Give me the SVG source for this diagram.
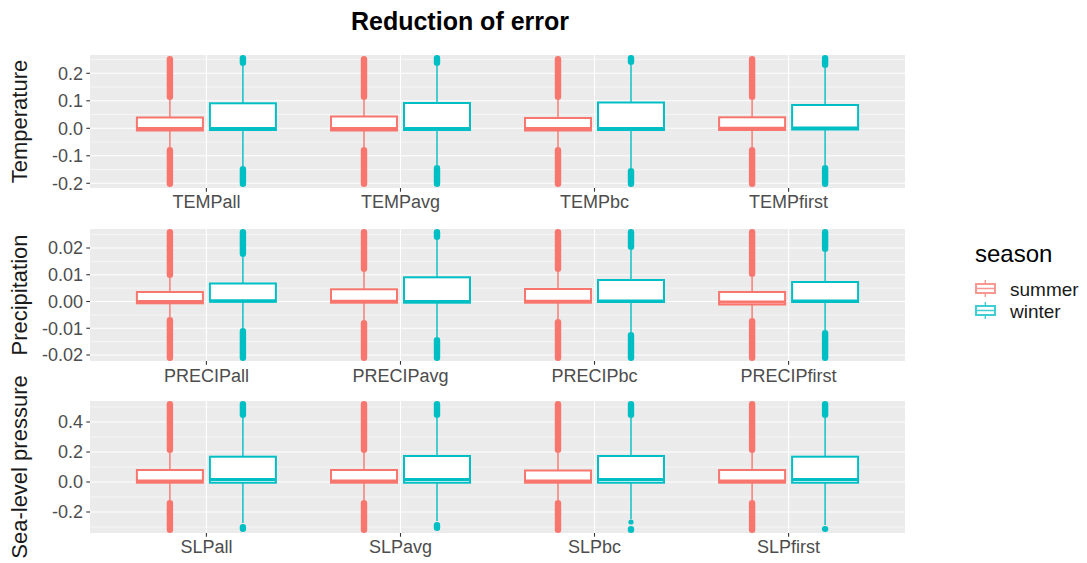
<svg xmlns="http://www.w3.org/2000/svg" width="1087" height="563" viewBox="0 0 1087 563">
<style>
  text { font-family: "Liberation Sans", Arial, sans-serif; }
  .title { font-size: 25px; font-weight: bold; fill: #000; }
  .strip { font-size: 22px; fill: #1a1a1a; }
  .ytick { font-size: 18px; fill: #4d4d4d; text-anchor: end; }
  .xtick { font-size: 18px; fill: #4d4d4d; text-anchor: middle; }
  .bg { fill: #ebebeb; }
  .gmaj { stroke: #fff; stroke-width: 1.1; }
  .gmin { stroke: #fff; stroke-width: 0.55; }
  .tk { stroke: #333; stroke-width: 1.1; }
  .s { stroke: #f8766d; fill: #f8766d; }
  .w { stroke: #00bfc4; fill: #00bfc4; }
  .wh { stroke-width: 1.4; }
  .box { fill: #fff; stroke-width: 2; }
  .med { stroke-width: 3.2; }
  .o { stroke: none; }
  .leg-title { font-size: 24px; fill: #000; }
  .leg-lab { font-size: 19px; fill: #1a1a1a; }
</style>

<text class="title" x="460" y="30" text-anchor="middle">Reduction of error</text>

<!-- panel backgrounds and grids -->
<g id="panel-temperature">
  <rect class="bg" x="90" y="55" width="815" height="133"/>
  <g class="gmin">
    <line x1="90" x2="905" y1="59.5" y2="59.5"/><line x1="90" x2="905" y1="87" y2="87"/>
    <line x1="90" x2="905" y1="114.5" y2="114.5"/><line x1="90" x2="905" y1="142" y2="142"/>
    <line x1="90" x2="905" y1="169.5" y2="169.5"/>
  </g>
  <g class="gmaj">
    <line x1="90" x2="905" y1="73.3" y2="73.3"/><line x1="90" x2="905" y1="100.8" y2="100.8"/>
    <line x1="90" x2="905" y1="128.3" y2="128.3"/><line x1="90" x2="905" y1="155.8" y2="155.8"/>
    <line x1="90" x2="905" y1="183.3" y2="183.3"/>
    <line x1="206.4" x2="206.4" y1="55" y2="188"/><line x1="400.5" x2="400.5" y1="55" y2="188"/>
    <line x1="594.5" x2="594.5" y1="55" y2="188"/><line x1="788.6" x2="788.6" y1="55" y2="188"/>
  </g>
  <g class="tk">
    <line x1="86.3" x2="90" y1="73.3" y2="73.3"/><line x1="86.3" x2="90" y1="100.8" y2="100.8"/>
    <line x1="86.3" x2="90" y1="128.3" y2="128.3"/><line x1="86.3" x2="90" y1="155.8" y2="155.8"/>
    <line x1="86.3" x2="90" y1="183.3" y2="183.3"/>
    <line x1="206.4" x2="206.4" y1="188" y2="191.7"/><line x1="400.5" x2="400.5" y1="188" y2="191.7"/>
    <line x1="594.5" x2="594.5" y1="188" y2="191.7"/><line x1="788.6" x2="788.6" y1="188" y2="191.7"/>
  </g>
  <text class="ytick" x="83" y="79.6">0.2</text>
  <text class="ytick" x="83" y="107.1">0.1</text>
  <text class="ytick" x="83" y="134.6">0.0</text>
  <text class="ytick" x="83" y="162.1">-0.1</text>
  <text class="ytick" x="83" y="189.6">-0.2</text>
  <text class="xtick" x="206.4" y="208">TEMPall</text>
  <text class="xtick" x="400.5" y="208">TEMPavg</text>
  <text class="xtick" x="594.5" y="208">TEMPbc</text>
  <text class="xtick" x="788.6" y="208">TEMPfirst</text>
  <text class="strip" transform="translate(27,121.5) rotate(-90)" text-anchor="middle">Temperature</text>
</g>

<g id="panel-precipitation">
  <rect class="bg" x="90" y="229" width="815" height="132"/>
  <g class="gmin">
    <line x1="90" x2="905" y1="234.6" y2="234.6"/><line x1="90" x2="905" y1="261.4" y2="261.4"/>
    <line x1="90" x2="905" y1="288.1" y2="288.1"/><line x1="90" x2="905" y1="314.9" y2="314.9"/>
    <line x1="90" x2="905" y1="341.6" y2="341.6"/>
  </g>
  <g class="gmaj">
    <line x1="90" x2="905" y1="248" y2="248"/><line x1="90" x2="905" y1="274.75" y2="274.75"/>
    <line x1="90" x2="905" y1="301.5" y2="301.5"/><line x1="90" x2="905" y1="328.25" y2="328.25"/>
    <line x1="90" x2="905" y1="355" y2="355"/>
    <line x1="206.4" x2="206.4" y1="229" y2="361"/><line x1="400.5" x2="400.5" y1="229" y2="361"/>
    <line x1="594.5" x2="594.5" y1="229" y2="361"/><line x1="788.6" x2="788.6" y1="229" y2="361"/>
  </g>
  <g class="tk">
    <line x1="86.3" x2="90" y1="248" y2="248"/><line x1="86.3" x2="90" y1="274.75" y2="274.75"/>
    <line x1="86.3" x2="90" y1="301.5" y2="301.5"/><line x1="86.3" x2="90" y1="328.25" y2="328.25"/>
    <line x1="86.3" x2="90" y1="355" y2="355"/>
    <line x1="206.4" x2="206.4" y1="361" y2="364.7"/><line x1="400.5" x2="400.5" y1="361" y2="364.7"/>
    <line x1="594.5" x2="594.5" y1="361" y2="364.7"/><line x1="788.6" x2="788.6" y1="361" y2="364.7"/>
  </g>
  <text class="ytick" x="83" y="254.3">0.02</text>
  <text class="ytick" x="83" y="281">0.01</text>
  <text class="ytick" x="83" y="307.8">0.00</text>
  <text class="ytick" x="83" y="334.5">-0.01</text>
  <text class="ytick" x="83" y="361.3">-0.02</text>
  <text class="xtick" x="206.4" y="381.5">PRECIPall</text>
  <text class="xtick" x="400.5" y="381.5">PRECIPavg</text>
  <text class="xtick" x="594.5" y="381.5">PRECIPbc</text>
  <text class="xtick" x="788.6" y="381.5">PRECIPfirst</text>
  <text class="strip" transform="translate(27,295) rotate(-90)" text-anchor="middle">Precipitation</text>
</g>

<g id="panel-slp">
  <rect class="bg" x="90" y="401" width="815" height="132"/>
  <g class="gmin">
    <line x1="90" x2="905" y1="407" y2="407"/><line x1="90" x2="905" y1="437" y2="437"/>
    <line x1="90" x2="905" y1="467" y2="467"/><line x1="90" x2="905" y1="497" y2="497"/>
    <line x1="90" x2="905" y1="527" y2="527"/>
  </g>
  <g class="gmaj">
    <line x1="90" x2="905" y1="422" y2="422"/><line x1="90" x2="905" y1="452" y2="452"/>
    <line x1="90" x2="905" y1="482" y2="482"/><line x1="90" x2="905" y1="512" y2="512"/>
    <line x1="206.4" x2="206.4" y1="401" y2="533"/><line x1="400.5" x2="400.5" y1="401" y2="533"/>
    <line x1="594.5" x2="594.5" y1="401" y2="533"/><line x1="788.6" x2="788.6" y1="401" y2="533"/>
  </g>
  <g class="tk">
    <line x1="86.3" x2="90" y1="422" y2="422"/><line x1="86.3" x2="90" y1="452" y2="452"/>
    <line x1="86.3" x2="90" y1="482" y2="482"/><line x1="86.3" x2="90" y1="512" y2="512"/>
    <line x1="206.4" x2="206.4" y1="533" y2="536.7"/><line x1="400.5" x2="400.5" y1="533" y2="536.7"/>
    <line x1="594.5" x2="594.5" y1="533" y2="536.7"/><line x1="788.6" x2="788.6" y1="533" y2="536.7"/>
  </g>
  <text class="ytick" x="83" y="428.3">0.4</text>
  <text class="ytick" x="83" y="458.3">0.2</text>
  <text class="ytick" x="83" y="488.3">0.0</text>
  <text class="ytick" x="83" y="518.3">-0.2</text>
  <text class="xtick" x="206.4" y="553">SLPall</text>
  <text class="xtick" x="400.5" y="553">SLPavg</text>
  <text class="xtick" x="594.5" y="553">SLPbc</text>
  <text class="xtick" x="788.6" y="553">SLPfirst</text>
  <text class="strip" transform="translate(27,467) rotate(-90)" text-anchor="middle">Sea-level pressure</text>
</g>

<!-- boxplots: whiskers, outlier columns, box, median -->
<g id="boxes">
  <!-- Temperature -->
  <g id="tempall-summer" class="s">
    <line class="wh" x1="169.9" x2="169.9" y1="100" y2="147"/>
    <rect class="o" x="166.7" width="6.4" rx="3.2" y="56" height="44"/>
    <rect class="o" x="166.7" width="6.4" rx="3.2" y="147" height="40"/>
    <rect class="box" x="136.9" y="117.5" width="66" height="13"/>
    <line class="med" x1="136.9" x2="202.9" y1="128.5" y2="128.5"/>
  </g>
  <g id="tempall-winter" class="w">
    <line class="wh" x1="242.9" x2="242.9" y1="66" y2="166"/>
    <rect class="o" x="239.7" width="6.4" rx="3.2" y="55" height="11"/>
    <rect class="o" x="239.7" width="6.4" rx="3.2" y="166" height="21"/>
    <rect class="box" x="209.9" y="103.3" width="66" height="26.7"/>
    <line class="med" x1="209.9" x2="275.9" y1="128.5" y2="128.5"/>
  </g>
  <g id="tempavg-summer" class="s">
    <line class="wh" x1="364" x2="364" y1="100" y2="147"/>
    <rect class="o" x="360.8" width="6.4" rx="3.2" y="56" height="44"/>
    <rect class="o" x="360.8" width="6.4" rx="3.2" y="147" height="40"/>
    <rect class="box" x="331" y="116.5" width="66" height="14"/>
    <line class="med" x1="331" x2="397" y1="128.5" y2="128.5"/>
  </g>
  <g id="tempavg-winter" class="w">
    <line class="wh" x1="437" x2="437" y1="66" y2="165"/>
    <rect class="o" x="433.8" width="6.4" rx="3.2" y="55" height="11"/>
    <rect class="o" x="433.8" width="6.4" rx="3.2" y="165" height="22"/>
    <rect class="box" x="404" y="103" width="66" height="27"/>
    <line class="med" x1="404" x2="470" y1="128.5" y2="128.5"/>
  </g>
  <g id="tempbc-summer" class="s">
    <line class="wh" x1="558" x2="558" y1="100" y2="147"/>
    <rect class="o" x="554.8" width="6.4" rx="3.2" y="56" height="44"/>
    <rect class="o" x="554.8" width="6.4" rx="3.2" y="147" height="40"/>
    <rect class="box" x="525" y="118" width="66" height="12.5"/>
    <line class="med" x1="525" x2="591" y1="128.5" y2="128.5"/>
  </g>
  <g id="tempbc-winter" class="w">
    <line class="wh" x1="631" x2="631" y1="65" y2="168"/>
    <rect class="o" x="627.8" width="6.4" rx="3.2" y="55" height="10"/>
    <rect class="o" x="627.8" width="6.4" rx="3.2" y="168" height="19"/>
    <rect class="box" x="598" y="102.5" width="66" height="27.5"/>
    <line class="med" x1="598" x2="664" y1="128.5" y2="128.5"/>
  </g>
  <g id="tempfirst-summer" class="s">
    <line class="wh" x1="752.1" x2="752.1" y1="100" y2="147"/>
    <rect class="o" x="748.9" width="6.4" rx="3.2" y="56" height="44"/>
    <rect class="o" x="748.9" width="6.4" rx="3.2" y="147" height="40"/>
    <rect class="box" x="719.1" y="117.3" width="66" height="12.7"/>
    <line class="med" x1="719.1" x2="785.1" y1="128.3" y2="128.3"/>
  </g>
  <g id="tempfirst-winter" class="w">
    <line class="wh" x1="825.1" x2="825.1" y1="68" y2="165"/>
    <rect class="o" x="821.9" width="6.4" rx="3.2" y="55" height="13"/>
    <rect class="o" x="821.9" width="6.4" rx="3.2" y="165" height="22"/>
    <rect class="box" x="792.1" y="105" width="66" height="24.5"/>
    <line class="med" x1="792.1" x2="858.1" y1="128" y2="128"/>
  </g>

  <!-- Precipitation -->
  <g id="precipall-summer" class="s">
    <line class="wh" x1="169.9" x2="169.9" y1="278" y2="317"/>
    <rect class="o" x="166.7" width="6.4" rx="3.2" y="229" height="49"/>
    <rect class="o" x="166.7" width="6.4" rx="3.2" y="317" height="44"/>
    <rect class="box" x="136.9" y="292" width="66" height="11.3"/>
    <line class="med" x1="136.9" x2="202.9" y1="301.5" y2="301.5"/>
  </g>
  <g id="precipall-winter" class="w">
    <line class="wh" x1="242.9" x2="242.9" y1="257" y2="328"/>
    <rect class="o" x="239.7" width="6.4" rx="3.2" y="229" height="28"/>
    <rect class="o" x="239.7" width="6.4" rx="3.2" y="328" height="33"/>
    <rect class="box" x="209.9" y="283.5" width="66" height="18.2"/>
    <line class="med" x1="209.9" x2="275.9" y1="300.8" y2="300.8"/>
  </g>
  <g id="precipavg-summer" class="s">
    <line class="wh" x1="364" x2="364" y1="272" y2="320"/>
    <rect class="o" x="360.8" width="6.4" rx="3.2" y="229" height="43"/>
    <rect class="o" x="360.8" width="6.4" rx="3.2" y="320" height="41"/>
    <rect class="box" x="331" y="289.3" width="66" height="13.4"/>
    <line class="med" x1="331" x2="397" y1="301.3" y2="301.3"/>
  </g>
  <g id="precipavg-winter" class="w">
    <line class="wh" x1="437" x2="437" y1="240" y2="337"/>
    <rect class="o" x="433.8" width="6.4" rx="3.2" y="229" height="11"/>
    <rect class="o" x="433.8" width="6.4" rx="3.2" y="337" height="24"/>
    <rect class="box" x="404" y="277.3" width="66" height="25.4"/>
    <line class="med" x1="404" x2="470" y1="301.5" y2="301.5"/>
  </g>
  <g id="precipbc-summer" class="s">
    <line class="wh" x1="558" x2="558" y1="272" y2="319"/>
    <rect class="o" x="554.8" width="6.4" rx="3.2" y="229" height="43"/>
    <rect class="o" x="554.8" width="6.4" rx="3.2" y="319" height="42"/>
    <rect class="box" x="525" y="289" width="66" height="13.7"/>
    <line class="med" x1="525" x2="591" y1="301.3" y2="301.3"/>
  </g>
  <g id="precipbc-winter" class="w">
    <line class="wh" x1="631" x2="631" y1="250" y2="332"/>
    <rect class="o" x="627.8" width="6.4" rx="3.2" y="229" height="21"/>
    <rect class="o" x="627.8" width="6.4" rx="3.2" y="332" height="29"/>
    <rect class="box" x="598" y="280" width="66" height="22"/>
    <line class="med" x1="598" x2="664" y1="301" y2="301"/>
  </g>
  <g id="precipfirst-summer" class="s">
    <line class="wh" x1="752.1" x2="752.1" y1="277" y2="318"/>
    <rect class="o" x="748.9" width="6.4" rx="3.2" y="229" height="48"/>
    <rect class="o" x="748.9" width="6.4" rx="3.2" y="318" height="43"/>
    <rect class="box" x="719.1" y="292" width="66" height="12.5"/>
    <line class="med" x1="719.1" x2="785.1" y1="302" y2="302"/>
  </g>
  <g id="precipfirst-winter" class="w">
    <line class="wh" x1="825.1" x2="825.1" y1="252" y2="330"/>
    <rect class="o" x="821.9" width="6.4" rx="3.2" y="229" height="23"/>
    <rect class="o" x="821.9" width="6.4" rx="3.2" y="330" height="31"/>
    <rect class="box" x="792.1" y="282" width="66" height="20"/>
    <line class="med" x1="792.1" x2="858.1" y1="301" y2="301"/>
  </g>

  <!-- Sea-level pressure -->
  <g id="slpall-summer" class="s">
    <line class="wh" x1="169.9" x2="169.9" y1="453" y2="500"/>
    <rect class="o" x="166.7" width="6.4" rx="3.2" y="401" height="52"/>
    <rect class="o" x="166.7" width="6.4" rx="3.2" y="500" height="33"/>
    <rect class="box" x="136.9" y="470" width="66" height="12.7"/>
    <line class="med" x1="136.9" x2="202.9" y1="481" y2="481"/>
  </g>
  <g id="slpall-winter" class="w">
    <line class="wh" x1="242.9" x2="242.9" y1="418" y2="523"/>
    <rect class="o" x="239.7" width="6.4" rx="3.2" y="401" height="17"/>
    <rect class="o" x="239.7" width="6.4" rx="3.2" y="524" height="8"/>
    <rect class="box" x="209.9" y="456.7" width="66" height="26"/>
    <line class="med" x1="209.9" x2="275.9" y1="479.5" y2="479.5"/>
  </g>
  <g id="slpavg-summer" class="s">
    <line class="wh" x1="364" x2="364" y1="453" y2="500"/>
    <rect class="o" x="360.8" width="6.4" rx="3.2" y="401" height="52"/>
    <rect class="o" x="360.8" width="6.4" rx="3.2" y="500" height="33"/>
    <rect class="box" x="331" y="470" width="66" height="12.7"/>
    <line class="med" x1="331" x2="397" y1="481" y2="481"/>
  </g>
  <g id="slpavg-winter" class="w">
    <line class="wh" x1="437" x2="437" y1="418" y2="521"/>
    <rect class="o" x="433.8" width="6.4" rx="3.2" y="401" height="17"/>
    <rect class="o" x="433.8" width="6.4" rx="3.2" y="522" height="9"/>
    <rect class="box" x="404" y="456" width="66" height="26.7"/>
    <line class="med" x1="404" x2="470" y1="479.5" y2="479.5"/>
  </g>
  <g id="slpbc-summer" class="s">
    <line class="wh" x1="558" x2="558" y1="453" y2="500"/>
    <rect class="o" x="554.8" width="6.4" rx="3.2" y="401" height="52"/>
    <rect class="o" x="554.8" width="6.4" rx="3.2" y="500" height="33"/>
    <rect class="box" x="525" y="470.5" width="66" height="12.2"/>
    <line class="med" x1="525" x2="591" y1="481" y2="481"/>
  </g>
  <g id="slpbc-winter" class="w">
    <line class="wh" x1="631" x2="631" y1="418" y2="519"/>
    <rect class="o" x="627.8" width="6.4" rx="3.2" y="401" height="17"/>
    <circle class="o" cx="631" cy="522" r="2.6"/>
    <rect class="o" x="627.8" width="6.4" rx="3.2" y="526" height="7"/>
    <rect class="box" x="598" y="456" width="66" height="26.7"/>
    <line class="med" x1="598" x2="664" y1="479.5" y2="479.5"/>
  </g>
  <g id="slpfirst-summer" class="s">
    <line class="wh" x1="752.1" x2="752.1" y1="453" y2="500"/>
    <rect class="o" x="748.9" width="6.4" rx="3.2" y="401" height="52"/>
    <rect class="o" x="748.9" width="6.4" rx="3.2" y="500" height="33"/>
    <rect class="box" x="719.1" y="470" width="66" height="12.7"/>
    <line class="med" x1="719.1" x2="785.1" y1="481" y2="481"/>
  </g>
  <g id="slpfirst-winter" class="w">
    <line class="wh" x1="825.1" x2="825.1" y1="418" y2="525"/>
    <rect class="o" x="821.9" width="6.4" rx="3.2" y="401" height="17"/>
    <rect class="o" x="821.9" width="6.4" rx="3.2" y="526" height="6"/>
    <rect class="box" x="792.1" y="456.7" width="66" height="26"/>
    <line class="med" x1="792.1" x2="858.1" y1="479.5" y2="479.5"/>
  </g>
</g>

<!-- legend -->
<g id="legend">
  <text class="leg-title" x="975" y="262">season</text>
  <g id="key-summer" class="s" opacity="0.75">
    <line class="wh" x1="985.3" x2="985.3" y1="280" y2="297"/>
    <rect class="box" x="976" y="284" width="19" height="9" stroke-width="1.5"/>
    <line x1="976" x2="995" y1="288.5" y2="288.5" stroke-width="1.5"/>
  </g>
  <g id="key-winter" class="w" opacity="0.75">
    <line class="wh" x1="985.3" x2="985.3" y1="302" y2="319"/>
    <rect class="box" x="976" y="306" width="19" height="9" stroke-width="1.5"/>
    <line x1="976" x2="995" y1="310.5" y2="310.5" stroke-width="1.5"/>
  </g>
  <text class="leg-lab" x="1010" y="296">summer</text>
  <text class="leg-lab" x="1010" y="318">winter</text>
</g>
</svg>
